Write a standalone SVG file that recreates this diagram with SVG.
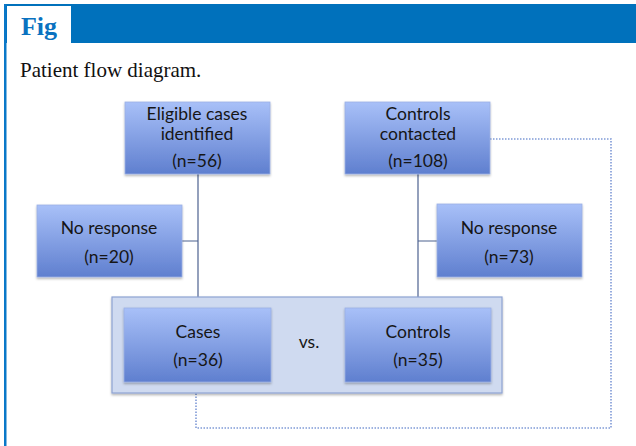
<svg xmlns="http://www.w3.org/2000/svg" width="636" height="446" viewBox="0 0 636 446">
<defs>
<linearGradient id="bg" x1="0" y1="0" x2="0" y2="1">
<stop offset="0" stop-color="#a8c0f8"/>
<stop offset="1" stop-color="#5f7fcf"/>
</linearGradient>
<filter id="sh" x="-10%" y="-10%" width="125%" height="130%">
<feDropShadow dx="0" dy="1.5" stdDeviation="1.2" flood-color="#000" flood-opacity="0.3"/>
</filter>
</defs>
<style>
.box{fill:url(#bg);stroke:#9bb0e4;stroke-width:0.8;filter:url(#sh)}
.t{font-family:Lato,"Open Sans",sans-serif;font-size:17.5px;fill:#161616;text-anchor:middle}
.ln{fill:none;stroke:#4d6290;stroke-width:1.2}
.dot{fill:none;stroke:#7f9ad6;stroke-width:1.6;stroke-dasharray:1.5 1.5}
</style>
<rect x="0" y="0" width="636" height="446" fill="#fff"/>
<rect x="4" y="4" width="632" height="39" fill="#0071bc"/>
<rect x="4" y="4" width="2.5" height="442" fill="#0a78c8"/>
<rect x="7" y="6" width="64" height="37" fill="#fff"/>
<text x="39" y="35" text-anchor="middle" font-family="Liberation Serif,serif" font-weight="bold" font-size="26" fill="#0a72c0">Fig</text>
<text x="20" y="77" font-family="Liberation Serif,serif" font-size="21" fill="#111">Patient flow diagram.</text>

<g id="connectors">
<path class="ln" d="M198 174 V308 M182 241 H198"/>
<path class="ln" d="M418 174 V308 M418 241 H437"/>
<path class="dot" d="M490 139 H611 V428 H196 V393"/>
</g>

<g id="group">
<rect x="112" y="297" width="390" height="96" fill="#cfdaf0" stroke="#8ea3d2" stroke-width="1.2" filter="url(#sh)"/>
<text class="t" x="309" y="348">vs.</text>
</g>

<g id="eligible">
<rect class="box" x="125" y="102" width="145" height="72"/>
<text class="t" x="197" y="120">Eligible cases</text>
<text class="t" x="197" y="140">identified</text>
<text class="t" x="197" y="167">(n=56)</text>
</g>
<g id="controls-contacted">
<rect class="box" x="345" y="102" width="145" height="72"/>
<text class="t" x="418" y="120">Controls</text>
<text class="t" x="418" y="140">contacted</text>
<text class="t" x="418" y="167">(n=108)</text>
</g>
<g id="noresp-left">
<rect class="box" x="37" y="205" width="145" height="72"/>
<text class="t" x="109" y="234">No response</text>
<text class="t" x="109" y="263">(n=20)</text>
</g>
<g id="noresp-right">
<rect class="box" x="437" y="204" width="145" height="73"/>
<text class="t" x="509" y="234">No response</text>
<text class="t" x="509" y="263">(n=73)</text>
</g>
<g id="cases">
<rect class="box" x="124" y="308" width="147" height="74"/>
<text class="t" x="198" y="338">Cases</text>
<text class="t" x="198" y="366">(n=36)</text>
</g>
<g id="controls">
<rect class="box" x="345" y="308" width="146" height="74"/>
<text class="t" x="418" y="338">Controls</text>
<text class="t" x="418" y="366">(n=35)</text>
</g>
</svg>
